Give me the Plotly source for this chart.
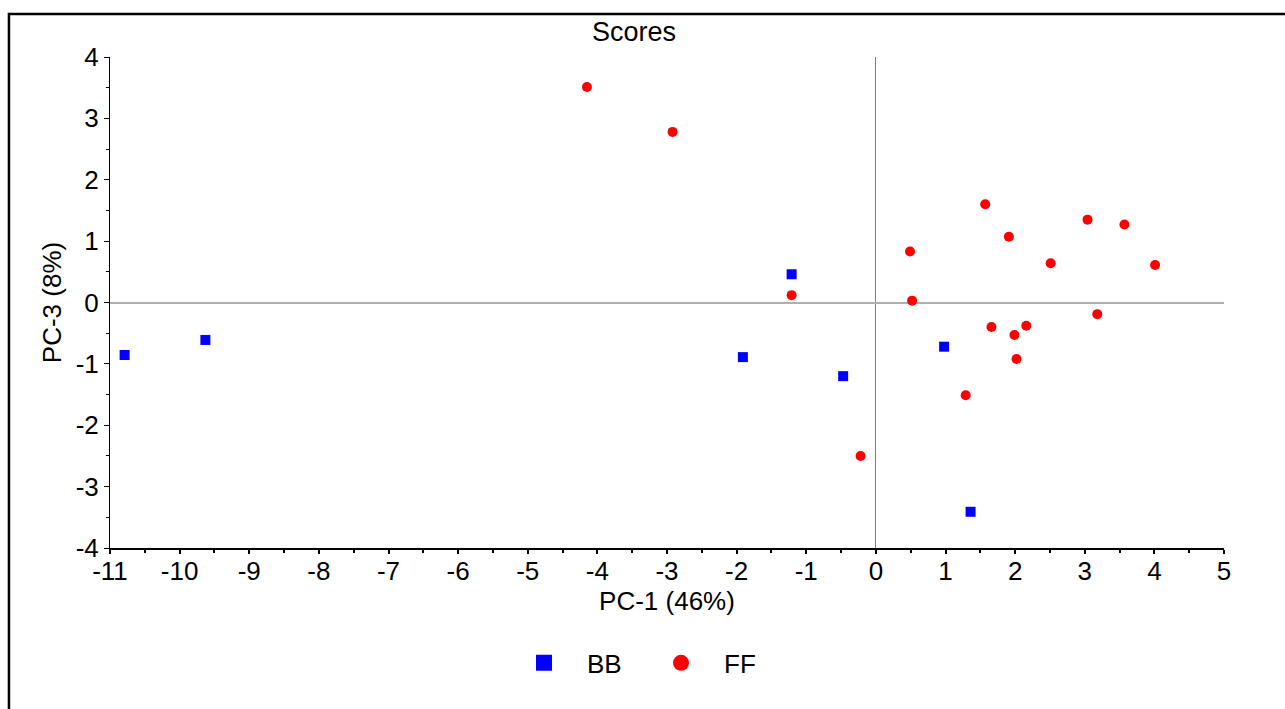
import plotly.graph_objects as go

# BB scores (PC-1, PC-3)
bb_pc1 = [-10.79, -9.63, -1.21, -1.91, -0.47, 0.98, 1.36]
bb_pc3 = [-0.855, -0.61, 0.46, -0.89, -1.20, -0.72, -3.41]

# FF scores (PC-1, PC-3)
ff_pc1 = [-4.15, -2.92, -1.21, -0.22, 1.57, 0.49, 1.91, 3.04, 3.57, 2.51, 4.01,
          0.52, 3.18, 1.66, 2.16, 1.99, 2.02, 1.29]
ff_pc3 = [3.51, 2.78, 0.12, -2.50, 1.60, 0.83, 1.07, 1.35, 1.27, 0.64, 0.61,
          0.03, -0.19, -0.40, -0.38, -0.53, -0.92, -1.51]

x_ticks = list(range(-11, 6))
y_ticks = list(range(-4, 5))

FONT = "Liberation Sans, Arial, sans-serif"

fig = go.Figure()
fig.add_trace(go.Scatter(x=bb_pc1, y=bb_pc3, mode="markers", name="BB", showlegend=False,
                         marker=dict(symbol="square", size=10, color="#0000ff")))
fig.add_trace(go.Scatter(x=ff_pc1, y=ff_pc3, mode="markers", name="FF", showlegend=False,
                         marker=dict(symbol="circle", size=10, color="#ff0000")))
# legend entries with larger symbols
fig.add_trace(go.Scatter(x=[None], y=[None], mode="markers", name="BB",
                         marker=dict(symbol="square", size=19, color="#0000ff")))
fig.add_trace(go.Scatter(x=[None], y=[None], mode="markers", name="FF",
                         marker=dict(symbol="circle", size=19, color="#ff0000")))

fig.update_layout(
    width=1285, height=709,
    margin=dict(l=110, r=61, t=57, b=161),
    paper_bgcolor="white", plot_bgcolor="white",
    font=dict(family=FONT, size=26, color="black"),
    title=dict(text="Scores", x=634 / 1285, xanchor="center", y=1 - 32 / 709, yanchor="middle",
               font=dict(size=27)),
    showlegend=True,
    legend=dict(orientation="h", x=(501 - 110) / 1114, xanchor="left",
                y=-0.234, yanchor="middle",
                font=dict(size=26), itemwidth=76, entrywidth=46, entrywidthmode="pixels",
                bgcolor="rgba(0,0,0,0)"),
    shapes=[dict(type="rect", xref="paper", yref="paper",
                 x0=-0.0907, x1=1.06, y0=-0.34, y1=1.0876,
                 line=dict(color="black", width=2.5), fillcolor="rgba(0,0,0,0)",
                 layer="below")],
)

fig.update_xaxes(
    range=[-11, 5], tickvals=x_ticks, ticktext=[str(v) for v in x_ticks],
    showgrid=False, zeroline=True, zerolinecolor="#808080", zerolinewidth=1,
    showline=True, linecolor="black", linewidth=2,
    ticks="outside", ticklen=4, tickwidth=1.5, tickcolor="black",
    ticklabelstandoff=-5,
    minor=dict(dtick=0.5, ticks="outside", ticklen=3, tickcolor="black", showgrid=False),
    tickfont=dict(size=26),
    title=dict(text="PC-1 (46%)", font=dict(size=26), standoff=7),
)
fig.update_yaxes(
    range=[-4, 4], tickvals=y_ticks, ticktext=[str(v) for v in y_ticks],
    showgrid=False, zeroline=True, zerolinecolor="#b0b0b0", zerolinewidth=2,
    showline=True, linecolor="black", linewidth=1,
    ticks="outside", ticklen=5, tickwidth=1, tickcolor="black",
    minor=dict(dtick=0.5, ticks="outside", ticklen=3, tickcolor="black", showgrid=False),
    tickfont=dict(size=26),
    title=dict(text="PC-3 (8%)", font=dict(size=26), standoff=6),
)

fig.write_html("out.html")
